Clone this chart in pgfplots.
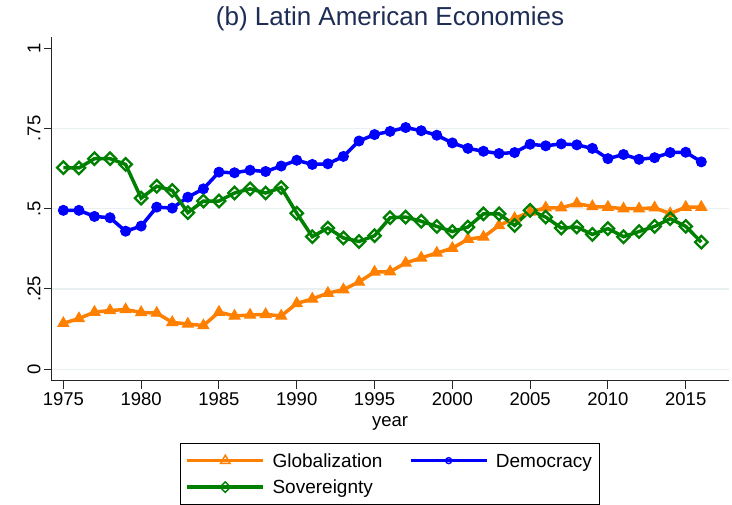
\documentclass[border=0pt]{standalone}
\usepackage{pgfplots}
\pgfplotsset{compat=1.18}
\usepackage{pgfplotstable}
\usepackage{fontspec}
\setmainfont{Liberation Sans}
\definecolor{glob}{RGB}{255,128,0}
\definecolor{dem}{RGB}{0,0,255}
\definecolor{sov}{RGB}{0,128,0}
\definecolor{titlec}{RGB}{30,45,85}
\definecolor{gridc}{RGB}{232,240,242}
\pgfplotstableread{
year glob dem sov
1975 0.143 0.495 0.628
1976 0.158 0.495 0.627
1977 0.178 0.476 0.656
1978 0.183 0.472 0.656
1979 0.186 0.430 0.638
1980 0.177 0.446 0.533
1981 0.175 0.505 0.570
1982 0.146 0.502 0.557
1983 0.141 0.536 0.488
1984 0.136 0.562 0.524
1985 0.178 0.614 0.524
1986 0.166 0.612 0.549
1987 0.169 0.620 0.562
1988 0.171 0.616 0.549
1989 0.166 0.633 0.566
1990 0.205 0.651 0.486
1991 0.219 0.638 0.413
1992 0.237 0.640 0.440
1993 0.248 0.663 0.409
1994 0.272 0.711 0.398
1995 0.303 0.731 0.416
1996 0.304 0.741 0.472
1997 0.331 0.753 0.474
1998 0.347 0.743 0.461
1999 0.362 0.729 0.445
2000 0.377 0.705 0.429
2001 0.405 0.688 0.443
2002 0.412 0.679 0.484
2003 0.448 0.672 0.484
2004 0.470 0.675 0.448
2005 0.490 0.701 0.495
2006 0.503 0.696 0.474
2007 0.503 0.702 0.440
2008 0.516 0.699 0.443
2009 0.507 0.688 0.420
2010 0.505 0.656 0.438
2011 0.500 0.669 0.413
2012 0.500 0.654 0.429
2013 0.503 0.659 0.445
2014 0.485 0.675 0.469
2015 0.505 0.676 0.445
2016 0.505 0.646 0.396
}\data
\begin{document}
\begin{tikzpicture}
\path (-52pt,-124pt) rectangle (680pt,381pt);
\begin{axis}[
  at={(0pt,0pt)}, anchor=south west,
  scale only axis, width=677pt, height=344pt,
  xmin=1974.27, xmax=2017.78, ymin=-0.0366, ymax=1.035,
  axis lines=left, axis line style={-, line width=1pt, black!85},
  xtick={1975,1980,...,2015},
  xticklabels={1975,1980,1985,1990,1995,2000,2005,2010,2015},
  ytick={0,0.25,0.5,0.75,1},
  yticklabels={0,.25,.5,.75,1},
  tick align=outside, major tick length=8pt,
  tick style={line width=1pt, black!85},
  tick label style={font=\fontsize{18.5}{22}\selectfont},
  yticklabel style={rotate=90, anchor=south},
  extra y ticks={0,0.25,0.5,0.75}, extra y tick labels={},
  extra y tick style={grid=major, major tick length=0pt},
  grid style={color=gridc, line width=1.2pt},
  title={(b) Latin American Economies},
  title style={font=\fontsize{26}{30}\selectfont, color=titlec, at={(axis description cs:0.4993,1)}, anchor=base, yshift=5pt},
  xlabel={year},
  xlabel style={font=\fontsize{18.5}{22}\selectfont, at={(axis description cs:0.4993,0)}, anchor=base, yshift=-46pt},
  legend columns=2,
  legend cell align=left,
  legend style={at={(axis description cs:0.4993,-0.1802)}, anchor=north, draw=black, line width=0.8pt,
    font=\fontsize{19}{22}\selectfont, inner xsep=5pt, inner ysep=4pt,
    nodes={inner sep=2.5pt, text height=17.5pt, text depth=4pt},
    /tikz/every odd column/.append style={column sep=5pt},
    /tikz/every even column/.append style={column sep=24pt}},
  legend image code/.code={\draw[mark repeat=2,mark phase=2,#1] plot coordinates {(0pt,0pt) (38pt,0pt) (76pt,0pt)};},
]
\addplot[forget plot, glob, line width=3.5pt, mark=triangle*, mark size=6.3pt, mark options={line width=1pt, solid, fill=glob}] table[x=year,y=glob]{\data};
\addplot[forget plot, dem, line width=3.5pt, mark=*, mark size=5pt, mark options={line width=1pt, solid, fill=dem}] table[x=year,y=dem]{\data};
\addplot[forget plot, sov, line width=3.5pt, mark=square, mark size=4.4pt, mark options={line width=2.3pt, solid, rotate=45, fill=none}] table[x=year,y=sov]{\data};
\addlegendimage{glob, line width=3.5pt, mark=triangle, mark size=5.5pt, mark options={line width=1.4pt, fill=white}}
\addlegendentry{Globalization}
\addlegendimage{dem, line width=3.5pt, mark=o, mark size=3pt, mark options={line width=1.4pt, fill=white}}
\addlegendentry{Democracy}
\addlegendimage{sov, line width=3.5pt, mark=square, mark size=3.7pt, mark options={line width=1.4pt, rotate=45, fill=white}}
\addlegendentry{Sovereignty}
\end{axis}
\end{tikzpicture}
\end{document}
